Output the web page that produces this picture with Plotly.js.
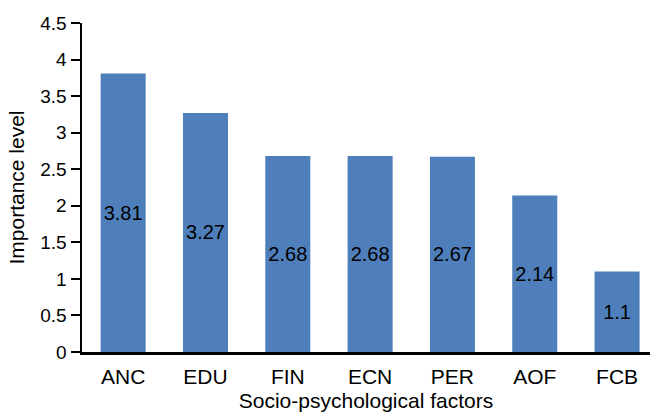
<!DOCTYPE html>
<html>
<head>
<script src="https://cdn.plot.ly/plotly-3.0.1.min.js"></script>
<style>body{margin:0;padding:0;background:#fff}</style>
</head>
<body>
<div id="chart" style="width:650px;height:415px"></div>
<script>
const categories = ["ANC", "EDU", "FIN", "ECN", "PER", "AOF", "FCB"];
const values = [3.81, 3.27, 2.68, 2.68, 2.67, 2.14, 1.1];
const yTicks = [0, 0.5, 1, 1.5, 2, 2.5, 3, 3.5, 4, 4.5];
const yTickLabels = ["0", "0.5", "1", "1.5", "2", "2.5", "3", "3.5", "4", "4.5"];

const fam = "Liberation Sans, Arial, sans-serif";
const f = s => ({family: fam, size: s, color: "#000"});

Plotly.newPlot("chart", [{
  type: "bar",
  x: categories,
  y: values,
  marker: {color: "#4f7fbb"},
  text: values.map(String),
  textposition: "inside",
  insidetextanchor: "middle",
  constraintext: "none",
  textangle: 0,
  textfont: f(20),
  insidetextfont: f(20),
  hoverinfo: "none"
}], {
  width: 650, height: 415,
  margin: {l: 82, r: 0, t: 23, b: 63},
  bargap: 0.453,
  paper_bgcolor: "#fff", plot_bgcolor: "#fff",
  font: f(20),
  showlegend: false,
  xaxis: {
    range: [-0.5, 6.4],
    showline: true, linecolor: "#000", linewidth: 2.5,
    ticks: "outside", ticklen: 4, tickcolor: "rgba(0,0,0,0)",
    tickfont: f(21),
    showgrid: false, zeroline: false,
    title: {text: "Socio-psychological factors", font: f(21), standoff: 7}
  },
  yaxis: {
    range: [0, 4.5],
    tickvals: yTicks, ticktext: yTickLabels,
    showline: true, linecolor: "#000", linewidth: 2.5,
    ticks: "outside", ticklen: 9, tickwidth: 2, tickcolor: "#000",
    tickfont: f(19),
    showgrid: false, zeroline: false,
    title: {text: "Importance level", font: f(21), standoff: 10}
  }
}, {displayModeBar: false, staticPlot: true});
</script>
</body>
</html>
